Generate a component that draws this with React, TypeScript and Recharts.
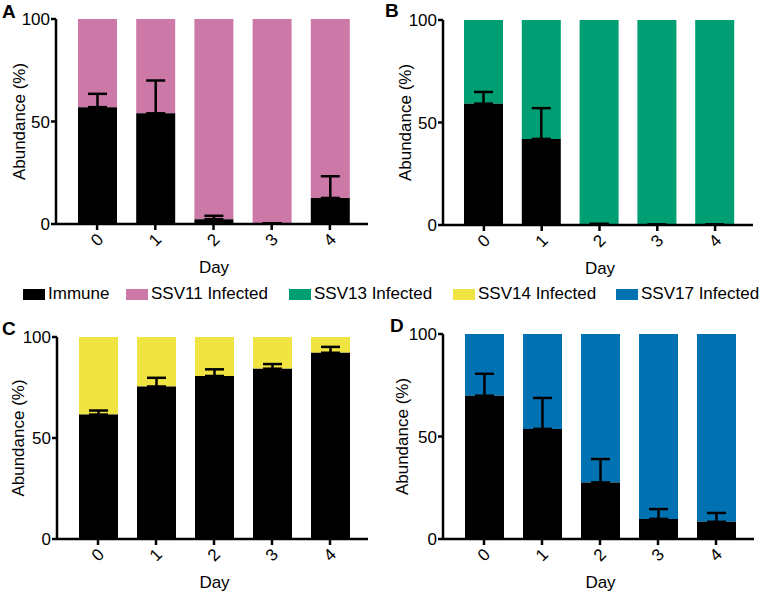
import React from 'react';
import { BarChart, Bar, XAxis, YAxis, ErrorBar } from 'recharts';

const FONT = '"Liberation Sans", Arial, Helvetica, sans-serif';

const days = ['0', '1', '2', '3', '4'];

const immuneA = [57, 54, 2.3, 0.3, 12.7];
const errA = [6.5, 16, 1.7, 0, 10.6];
const immuneB = [59.2, 42, 0.5, 0.2, 0.2];
const errB = [5.7, 15, 0, 0, 0];
const immuneC = [61.6, 75.5, 80.7, 84.3, 92.2];
const errC = [2, 4.3, 3.3, 2.3, 2.9];
const immuneD = [69.9, 53.7, 27.6, 9.8, 8.4];
const errD = [10.7, 15.1, 11.4, 4.8, 4.3];

const legendItems = [
  { name: 'Immune', color: '#000000', left: 23 },
  { name: 'SSV11 Infected', color: '#CC79A7', left: 126 },
  { name: 'SSV13 Infected', color: '#009E73', left: 289 },
  { name: 'SSV14 Infected', color: '#F0E442', left: 453 },
  { name: 'SSV17 Infected', color: '#0072B2', left: 616 },
];

const X_AXIS_H = 56;
const axisStroke = { stroke: '#000', strokeWidth: 2.5 };

function DayTick(props: any) {
  const { x, y, payload } = props;
  return (
    <g transform={`translate(${x},${y + 8})`}>
      <text
        transform="rotate(-45)"
        textAnchor="middle"
        dominantBaseline="central"
        fontSize={17}
        fontFamily={FONT}
        fill="#000"
      >
        {payload.value}
      </text>
    </g>
  );
}

// recharts clones the label element with its own props, so use private names
function AxisTitle(props: any) {
  const { tx, ty, rot, text } = props;
  return (
    <g transform={`translate(${tx},${ty}) rotate(${rot || 0})`}>
      <text
        x={0}
        y={0}
        textAnchor="middle"
        dominantBaseline="central"
        fontSize={17}
        fontFamily={FONT}
        fill="#000"
      >
        {text}
      </text>
    </g>
  );
}

interface PanelProps {
  immune: number[];
  err: number[];
  color: string;
  left: number;
  top: number;
  height: number;
  margin: { top: number; right: number; left: number; bottom: number };
  yLabelX: number;
  letter: string;
  letterX: number;
  letterY: number;
}

function Panel({ immune, err, color, left, top, height, margin, yLabelX, letter, letterX, letterY }: PanelProps) {
  const data = days.map((d, i) => ({
    day: d,
    immune: immune[i],
    infected: [immune[i], 100],
    err: [0, err[i]],
  }));
  const plotBottom = height - margin.bottom - X_AXIS_H;
  const plotMid = (margin.top + plotBottom) / 2;
  const plotLeft = margin.left + 45;
  const plotRight = 383 - margin.right;

  return (
    <div style={{ position: 'absolute', left, top, width: 383, height }}>
      <div
        style={{
          position: 'absolute',
          left: letterX,
          top: letterY,
          fontFamily: FONT,
          fontWeight: 'bold',
          fontSize: 19,
          lineHeight: '19px',
        }}
      >
        {letter}
      </div>
      <BarChart width={383} height={height} data={data} margin={margin} barSize={39} barGap={-39}>
        <XAxis
          dataKey="day"
          height={X_AXIS_H}
          padding={{ left: 12, right: 9 }}
          axisLine={axisStroke}
          tickLine={axisStroke}
          tickSize={6}
          tickMargin={2}
          interval={0}
          tick={<DayTick />}
          label={<AxisTitle tx={(plotLeft + plotRight) / 2 + 2} ty={plotBottom + 43} text="Day" />}
        />
        <YAxis
          width={45}
          domain={[0, 100]}
          ticks={[0, 50, 100]}
          axisLine={axisStroke}
          tickLine={axisStroke}
          tickSize={5}
          tickMargin={1}
          tick={{ fontSize: 17, fill: '#000', fontFamily: FONT }}
          label={<AxisTitle tx={yLabelX} ty={plotMid} rot={-90} text="Abundance (%)" />}
        />
        <Bar dataKey="infected" fill={color} isAnimationActive={false} />
        <Bar dataKey="immune" fill="#000" isAnimationActive={false}>
          <ErrorBar dataKey="err" width={9.5} stroke="#000" strokeWidth={2.5} direction="y" />
        </Bar>
      </BarChart>
    </div>
  );
}

export default function App() {
  return (
    <div style={{ position: 'absolute', left: 0, top: 0, width: 766, height: 595, background: '#fff', fontFamily: FONT }}>
      <Panel
        immune={immuneA}
        err={errA}
        color="#CC79A7"
        left={0}
        top={0}
        height={280}
        margin={{ top: 19, right: 15, left: 11, bottom: 0 }}
        yLabelX={19}
        letter="A"
        letterX={2}
        letterY={2}
      />
      <Panel
        immune={immuneB}
        err={errB}
        color="#009E73"
        left={383}
        top={0}
        height={281}
        margin={{ top: 20, right: 13, left: 15, bottom: 0 }}
        yLabelX={22}
        letter="B"
        letterX={2}
        letterY={1}
      />
      <Panel
        immune={immuneC}
        err={errC}
        color="#F0E442"
        left={0}
        top={310}
        height={285}
        margin={{ top: 27, right: 15, left: 12, bottom: 0 }}
        yLabelX={18}
        letter="C"
        letterX={2}
        letterY={9}
      />
      <Panel
        immune={immuneD}
        err={errD}
        color="#0072B2"
        left={383}
        top={310}
        height={285}
        margin={{ top: 24, right: 12, left: 15, bottom: 0 }}
        yLabelX={19}
        letter="D"
        letterX={7}
        letterY={6}
      />
      {legendItems.map(item => (
        <div
          key={item.name}
          style={{
            position: 'absolute',
            left: item.left,
            top: 284,
            display: 'flex',
            alignItems: 'center',
            fontSize: 17,
            lineHeight: '20px',
            color: '#000',
            whiteSpace: 'nowrap',
          }}
        >
          <span style={{ display: 'inline-block', width: 22, height: 11, background: item.color, marginRight: 3 }} />
          {item.name}
        </div>
      ))}
    </div>
  );
}
